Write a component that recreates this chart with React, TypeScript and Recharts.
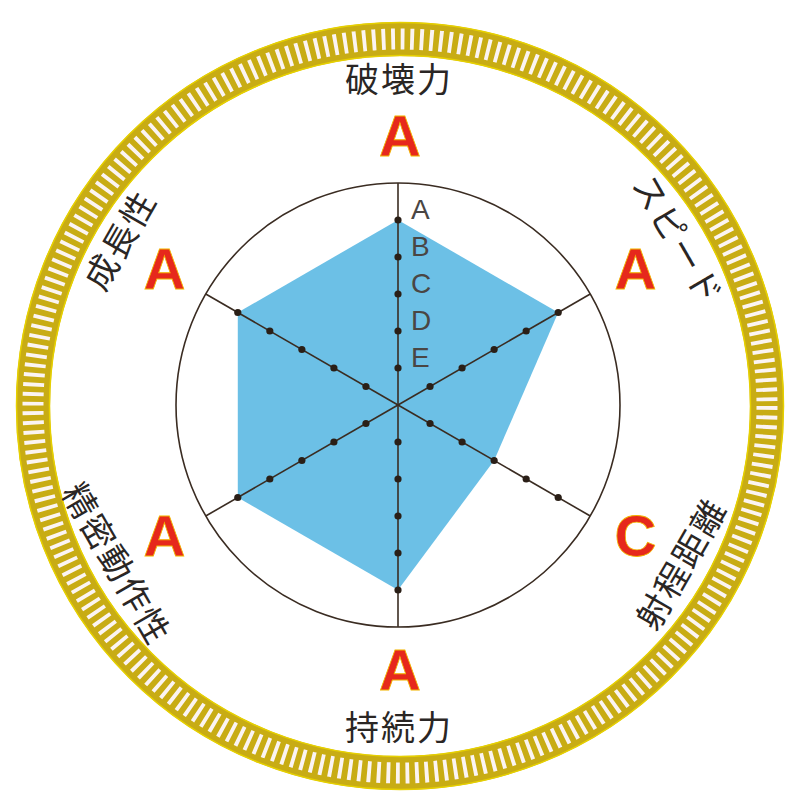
import React from 'react';
import { RadarChart, Radar, PolarGrid, PolarAngleAxis, PolarRadiusAxis } from 'recharts';

const categories = ['破壊力', 'スピード', '射程距離', '持続力', '精密動作性', '成長性'];
const values = [5, 5, 3, 5, 5, 5];
const rankLetters = ['', 'E', 'D', 'C', 'B', 'A'];
const levels = [1, 2, 3, 4, 5];

const W = 800;
const H = 803;
const CX = 398;
const CY = 405;
const OUTER = 222;

const data = categories.map((c, i) => {
  const row: Record<string, any> = { axis: c, value: values[i] };
  levels.forEach((l) => {
    row['l' + l] = l;
  });
  return row;
});

const LABEL_CX = 399;
const LABEL_CY = 401;
const LABEL_R = 324;
const GRADE_CX = 400;
const GRADE_CY = 402;
const GRADE_RX = 272;
const GRADE_RY = 267;

function AngleTick(props: any) {
  const { x, y, payload } = props;
  const ang = Math.atan2(CY - y, x - CX);
  const deg = (ang * 180) / Math.PI;
  const lx = LABEL_CX + LABEL_R * Math.cos(ang);
  const ly = LABEL_CY - LABEL_R * Math.sin(ang);
  const gx = GRADE_CX + GRADE_RX * Math.cos(ang);
  const gy = GRADE_CY - GRADE_RY * Math.sin(ang);
  const rot = deg >= 0 ? 90 - deg : -90 - deg;
  const idx = categories.indexOf(payload.value);
  const grade = rankLetters[values[idx]] || '';
  return (
    <g>
      <text
        x={lx}
        y={ly}
        transform={`rotate(${rot}, ${lx}, ${ly})`}
        textAnchor="middle"
        dominantBaseline="central"
        fontFamily="'Noto Sans CJK JP', 'Noto Sans', sans-serif"
        fontSize={34}
        letterSpacing={2}
        fill="#2a2624"
      >
        {payload.value}
      </text>
      <text
        x={gx}
        y={gy}
        textAnchor="middle"
        dominantBaseline="central"
        fontFamily="'Liberation Sans', Arial, sans-serif"
        fontWeight="bold"
        fontSize={58}
        fill="#e6281c"
        stroke="#f2b400"
        strokeWidth={0.8}
      >
        {grade}
      </text>
    </g>
  );
}

function RadiusTick(props: any) {
  const { x, y, payload } = props;
  const v = Number(payload.value);
  const letter = rankLetters[v];
  if (!letter || v < 1 || v > 5) return <g />;
  return (
    <text
      x={x + 13}
      y={y - 11}
      textAnchor="start"
      dominantBaseline="central"
      fontFamily="'Liberation Sans', Arial, sans-serif"
      fontSize={28}
      fill="#4a4644"
    >
      {letter}
    </text>
  );
}

function Ring() {
  const rc = 367;
  const slots = 240;
  const circ = 2 * Math.PI * rc;
  const step = circ / slots;
  return (
    <svg width={W} height={H} style={{ position: 'absolute', left: 0, top: 0 }}>
      <circle cx={400} cy={406} r={rc} fill="none" stroke="#c8ac14" strokeWidth={34} />
      <circle
        cx={400}
        cy={406}
        r={rc}
        fill="none"
        stroke="#fbf4f2"
        strokeWidth={21}
        strokeDasharray={`${step * 0.4} ${step * 0.6}`}
      />
      <circle cx={400} cy={406} r={383.5} fill="none" stroke="#e6d000" strokeWidth={1.5} />
      <circle cx={400} cy={406} r={350.5} fill="none" stroke="#e6d000" strokeWidth={1.5} />
    </svg>
  );
}

export default function App() {
  return (
    <div style={{ position: 'absolute', left: 0, top: 0, width: W, height: H, background: '#ffffff', overflow: 'hidden' }}>
      <Ring />
      <div style={{ position: 'absolute', left: 0, top: 0 }}>
        <RadarChart
          width={W}
          height={H}
          cx={CX}
          cy={CY}
          outerRadius={OUTER}
          data={data}
          margin={{ top: 0, right: 0, bottom: 0, left: 0 }}
        >
          <Radar
            dataKey="value"
            stroke="none"
            fill="#6cc0e6"
            fillOpacity={1}
            isAnimationActive={false}
          />
          <PolarGrid
            gridType="circle"
            polarRadius={[OUTER]}
            stroke="#3a2c22"
            strokeWidth={1.6}
            strokeOpacity={1}
            {...({ zIndex: 500 } as any)}
          />
          <PolarAngleAxis dataKey="axis" tick={AngleTick} tickLine={false} axisLine={false} />
          <PolarRadiusAxis
            angle={90}
            domain={[0, 6]}
            tickCount={7}
            tick={RadiusTick}
            axisLine={false}
            tickLine={false}
          />
          {levels.map((l) => (
            <Radar
              key={l}
              dataKey={'l' + l}
              stroke="none"
              fill="none"
              fillOpacity={0}
              dot={{ r: 3.6, fill: '#2a1f17', stroke: 'none', fillOpacity: 1 }}
              isAnimationActive={false}
            />
          ))}
        </RadarChart>
      </div>
    </div>
  );
}
